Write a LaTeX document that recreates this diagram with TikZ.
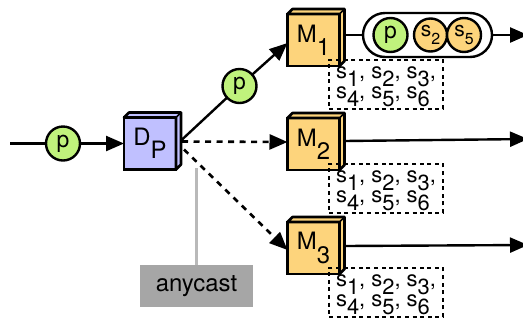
\documentclass[tikz,border=0pt]{standalone}
\usepackage{fontspec}
\setmainfont{TeX Gyre Heros}
\usetikzlibrary{arrows.meta,calc}

\definecolor{pktgreen}{RGB}{192,242,124}
\definecolor{boxorange}{RGB}{253,212,124}
\definecolor{boxblue}{RGB}{192,192,255}
\definecolor{tagfill}{RGB}{166,166,166}
\definecolor{tagline}{RGB}{185,185,185}

% lowered (subscript-like) digits at full size
\newcommand\lowered[2]{\raisebox{-#1}{#2}}
\newcommand\mlabel[2]{#1\lowered{0.56em}{#2}}
\newcommand\slotsub[1]{s\lowered{0.37em}{#1}}
\newcommand\slotsublast[1]{s\raisebox{-0.37em}[\height][0pt]{#1}}
\newcommand\circsub[1]{s\lowered{0.4em}{\fontsize{16}{16}\selectfont #1}}
\newcommand\slotlist{\slotsub{1}, \slotsub{2}, \slotsub{3},\\
  \slotsublast{4}, \slotsublast{5}, \slotsublast{6}}
% keep a fixed baseline distance between the two lines of slot names
\lineskiplimit=-100pt

\begin{document}
\begin{tikzpicture}[x=1bp,y=-1bp,
  every node/.style={inner sep=0pt, outer sep=0pt},
  wire/.style={line width=2.4bp, line join=round},
  tip/.style={-{Triangle[length=18bp,width=15bp]}},
  dotwire/.style={wire, line width=2.6bp, dash pattern=on 6bp off 5.5bp},
  pkt/.style={circle, draw, line width=2.4bp, fill=pktgreen, minimum size=34bp,
    font=\fontsize{23}{23}\selectfont},
  cube/.style={draw, line width=2.8bp, minimum width=52bp, minimum height=52bp,
    font=\fontsize{24}{24}\selectfont},
  slots/.style={draw, line width=2.4bp, dash pattern=on 4bp off 3.6bp,
    minimum width=114bp, minimum height=49bp, align=left,
    font=\fontsize{22}{20}\selectfont},
]
\useasboundingbox (0,0) rectangle (523,322);

% switches drawn as small cubes
\node[cube, fill=boxblue]   (dp) at (150,143.5) {\mlabel{D}{P}};
\node[cube, fill=boxorange] (m1) at (313.5,40)  {\mlabel{M}{1}};
\node[cube, fill=boxorange] (m2) at (313.5,144) {\mlabel{M}{2}};
\node[cube, fill=boxorange] (m3) at (313.5,248) {\mlabel{M}{3}};
\foreach \n/\c in {dp/boxblue, m1/boxorange, m2/boxorange, m3/boxorange} {
  \draw[line width=2.6bp, line join=round, fill=\c]
    (\n.north west) -- ++(5,-5) -- ($(\n.north east)+(5,-5)$)
    -- ($(\n.south east)+(5,-5)$) -- (\n.south east) -- (\n.north east) -- cycle;
  \draw[line width=1.6bp] (\n.north east) -- ++(5,-5);
}

% incoming packet
\coordinate (src) at (10,143.5);
\node[pkt] (pin) at (63,143.5) {p};
\draw[wire] (src) -- (pin);
\draw[wire, tip] (pin) -- (dp);

% anycast forwarding
\coordinate (dpup) at ($(dp.east)+(5,-3)$);
\coordinate (m1in) at ($(m1.west)+(0,3)$);
\node[pkt] (pup) at (239.5,86) {p};
\draw[wire] (dpup) -- (pup);
\draw[wire, tip] (pup) -- (m1in);

\coordinate (dpmid) at ($(dp.east)+(6,-2)$);
\coordinate (m2in) at ($(m2.west)+(0,-2)$);
\draw[dotwire, tip] (dpmid) -- (m2in);

\coordinate (dplow) at ($(dp.east)+(8,6)$);
\coordinate (m3in) at ($(m3.west)+(0,2)$);
\draw[dotwire, tip] (dplow) -- (m3in);

% output of M1: packet carried with its state
\node[draw, line width=2.4bp, fill=white, rounded corners=22bp,
  minimum width=129bp, minimum height=44bp] (bundle) at (427.5,35) {};
\coordinate (m1out) at ($(m1.east)+(5,-5)$);
\draw[wire] (m1out) -- (bundle);
\node[pkt] (pcar) at (390.5,35) {p};
\node[pkt, fill=boxorange, minimum size=33bp, font=\fontsize{21}{21}\selectfont]
  (st2) at (430.5,35) {\circsub{2}};
\node[pkt, fill=boxorange, font=\fontsize{21}{21}\selectfont]
  (st5) at (464,35) {\circsub{5}};
\coordinate (out1) at (528,35);
\draw[wire, tip] (bundle) -- (out1);

% outputs of M2 and M3
\coordinate (m2out) at ($(m2.east)+(5,-3)$);
\coordinate (out2) at (528,139);
\draw[wire, tip] (m2out) -- (out2);
\coordinate (m3out) at ($(m3.east)+(5,-2)$);
\coordinate (out3) at (528,245);
\draw[wire, tip] (m3out) -- (out3);

% state held at each switch
\node[slots] (sl1) at (386,84.5)  {\slotlist};
\node[slots] (sl2) at (386,188.5) {\slotlist};
\node[slots] (sl3) at (386,292.5) {\slotlist};

% anycast tag
\node[fill=tagfill, minimum width=113bp, minimum height=42bp,
  font=\fontsize{24}{24}\selectfont] (tag) at (196.5,286) {anycast};
\coordinate (tagref) at (196.5,168);
\draw[tagline, line width=3bp] (tag.north) -- (tagref);
\end{tikzpicture}
\end{document}
